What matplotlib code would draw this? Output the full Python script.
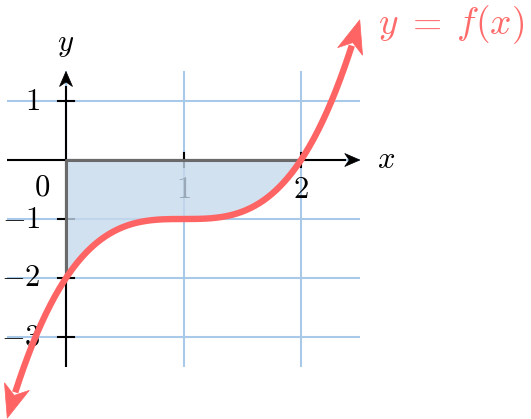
import numpy as np
import matplotlib
matplotlib.use("Agg")
import matplotlib.pyplot as plt
from matplotlib.patches import Polygon

plt.rcParams['mathtext.fontset'] = 'cm'

# data
x_ticks = [1, 2]
y_ticks = [1, -1, -2, -3]
x_grid = [0, 1, 2]
y_grid = [1, 0, -1, -2, -3]
x_range = [-0.5, 2.5]
y_range = [-3.5, 1.5]
curve_domain = [-0.5, 2.5]
fill_domain = [0, 2]

def f(x):
    return (x - 1) ** 3 - 1

W, H = 531, 419
fig = plt.figure(figsize=(W / 100, H / 100), dpi=100)
ax = fig.add_axes([0, 0, 1, 1])
ax.set_xlim(-66 / 117.5, (W - 66) / 117.5)
ax.set_ylim((160 - H) / 59, 160 / 59)
ax.axis('off')

to_disp = ax.transData.transform
to_data = ax.transData.inverted().transform


def stealth(tip, prev, L, hw, inset_frac):
    d = tip - prev
    d = d / np.hypot(*d)
    n = np.array([-d[1], d[0]])
    back = tip - L * d
    inset = tip - inset_frac * L * d
    return np.array([tip, back + hw * n, inset, back - hw * n])


def arrow_line(pts, color, lw, L, hw, inset_frac, z, both=False):
    keep = np.hypot(*(pts - pts[-1]).T) > 0.8 * L
    heads = [stealth(pts[-1], pts[-8] if len(pts) > 8 else pts[0], L, hw, inset_frac)]
    if both:
        keep &= np.hypot(*(pts - pts[0]).T) > 0.8 * L
        heads.append(stealth(pts[0], pts[7] if len(pts) > 8 else pts[-1], L, hw, inset_frac))
    ld = to_data(pts[keep])
    ax.plot(ld[:, 0], ld[:, 1], color=color, lw=lw, zorder=z, solid_capstyle='butt')
    for h in heads:
        ax.add_patch(Polygon(to_data(h), closed=True, facecolor=color, edgecolor=color,
                             lw=0.5, zorder=z + 0.1))


grid_c = '#a9c9e8'
for gy in y_grid:
    ax.plot(x_range, [gy, gy], color=grid_c, lw=1.5, zorder=1, solid_capstyle='butt')
for gx in x_grid:
    ax.plot([gx, gx], y_range, color=grid_c, lw=1.5, zorder=1, solid_capstyle='butt')

# axes with arrows
xa = np.linspace(x_range[0], x_range[1], 100)
arrow_line(to_disp(np.column_stack([xa, np.zeros_like(xa)])), 'black', 1.5, 15, 6.5, 0.7, 2)
ya = np.linspace(y_range[0], y_range[1], 100)
arrow_line(to_disp(np.column_stack([np.zeros_like(ya), ya])), 'black', 1.5, 15, 6.5, 0.7, 2)

# ticks
tx = 8 / 117.5
ty = 7 / 59
for t in y_ticks:
    ax.plot([-tx, tx], [t, t], color='black', lw=1.5, zorder=2)
    ax.text(-0.22, t, r'$%d$' % t, ha='right', va='center', fontsize=22, zorder=2)
for t in x_ticks:
    ax.plot([t, t], [-ty, ty], color='black', lw=1.5, zorder=2)
    ax.text(t, -0.5, r'$%d$' % t, ha='center', va='center', fontsize=22, zorder=2)
ax.text(-0.2, -0.45, r'$0$', ha='center', va='center', fontsize=22, zorder=2)
ax.text(2.72, 0, r'$x$', ha='center', va='center', fontsize=22)
ax.text(0, 1.95, r'$y$', ha='center', va='center', fontsize=22)

# fill
xf = np.linspace(fill_domain[0], fill_domain[1], 200)
ax.fill_between(xf, f(xf), 0, facecolor=(198/255, 217/255, 236/255, 0.78),
                edgecolor='#6a6a6a', linewidth=2.2, zorder=3)

# curve with stealth arrowheads at both ends
curve_c = '#ff6464'
xc = np.linspace(curve_domain[0], curve_domain[1], 400)
arrow_line(to_disp(np.column_stack([xc, f(xc)])), curve_c, 4.6, 33, 13, 0.72, 4, both=True)

ax.text(2.655, 2.29, r'$y\;=\;f(x)$', color='#ff6b6b', ha='left', va='center', fontsize=27)

fig.savefig('out.png', dpi=100)
